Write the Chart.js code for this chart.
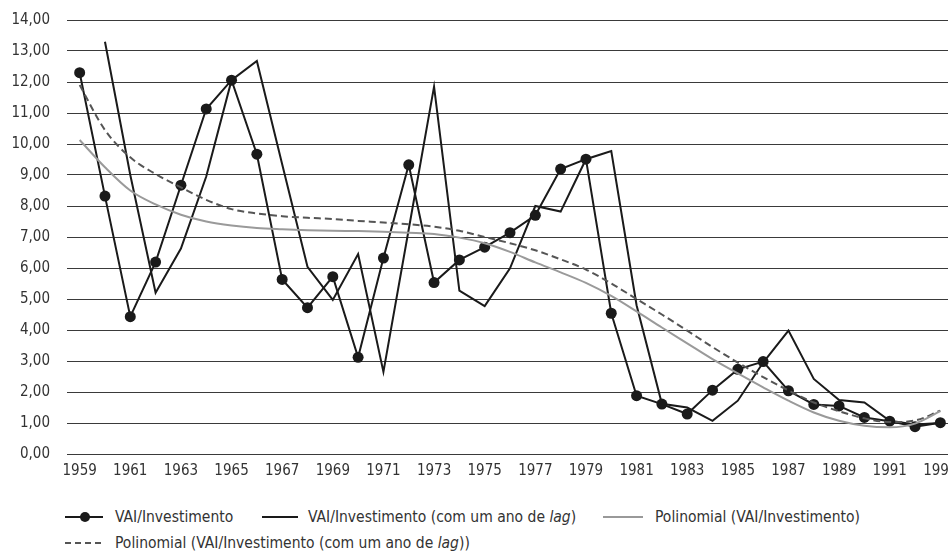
<!doctype html>
<html>
    <head>
        <meta charset="utf-8">
        <title>VAI/Investimento</title>
        <script src="https://cdn.jsdelivr.net/npm/chart.js@4.4.1/dist/chart.umd.min.js"></script>
        <style>
            html, body { margin: 0; padding: 0; background: #fff; overflow: hidden; }
            body { width: 948px; height: 555px; position: relative; }
            #wrap { position: absolute; left: 0; top: 0; width: 970px; height: 490px; }
            .leg { position: absolute; font-family: "DejaVu Sans Condensed", "Liberation Sans Narrow", "DejaVu Sans", sans-serif;
                   font-stretch: condensed; font-size: 15.5px; color: #333; white-space: nowrap; line-height: 18px; }
            .leg svg { position: absolute; top: 0; }
        </style>
    </head>

    <body>
        <div id="wrap"><canvas id="chart"></canvas></div>

        <!-- legend, kept as html so "lag" can be italic -->
        <div class="leg" style="left:65px; top:508px;">
            <svg width="40" height="18" style="left:0"><line x1="0" y1="9" x2="38" y2="9" stroke="#1a1a1a" stroke-width="2"/><circle cx="20" cy="9" r="5" fill="#1a1a1a"/></svg>
            <span style="position:absolute; left:50px;">VAI/Investimento</span>
        </div>
        <div class="leg" style="left:262px; top:508px;">
            <svg width="40" height="18" style="left:0"><line x1="0" y1="9" x2="36" y2="9" stroke="#1a1a1a" stroke-width="2"/></svg>
            <span style="position:absolute; left:46px;">VAI/Investimento (com um ano de <i>lag</i>)</span>
        </div>
        <div class="leg" style="left:603px; top:508px;">
            <svg width="42" height="18" style="left:0"><line x1="0" y1="9" x2="40" y2="9" stroke="#999" stroke-width="2"/></svg>
            <span style="position:absolute; left:52px;">Polinomial (VAI/Investimento)</span>
        </div>
        <div class="leg" style="left:65px; top:534px;">
            <svg width="40" height="18" style="left:0"><line x1="0" y1="9" x2="38" y2="9" stroke="#555" stroke-width="2" stroke-dasharray="6,4"/></svg>
            <span style="position:absolute; left:50px;">Polinomial (VAI/Investimento (com um ano de <i>lag</i>))</span>
        </div>

        <script>

        var years = ["1959", "1960", "1961", "1962", "1963", "1964", "1965", "1966", "1967", "1968",
                     "1969", "1970", "1971", "1972", "1973", "1974", "1975", "1976", "1977", "1978",
                     "1979", "1980", "1981", "1982", "1983", "1984", "1985", "1986", "1987", "1988",
                     "1989", "1990", "1991", "1992", "1993"];

        var vaiInvest = [12.30, 8.32, 4.43, 6.19, 8.67, 11.13, 12.06, 9.67, 5.63, 4.72,
                         5.72, 3.12, 6.32, 9.33, 5.53, 6.26, 6.67, 7.14, 7.70, 9.19,
                         9.51, 4.54, 1.88, 1.61, 1.29, 2.06, 2.73, 2.98, 2.04, 1.60,
                         1.55, 1.18, 1.06, 0.88, 1.01];

        var vaiInvestLag = [null, 13.30, 9.00, 5.20, 6.63, 8.95, 12.06, 12.68, 9.35, 6.04,
                            4.97, 6.45, 2.65, 7.25, 11.85, 5.27, 4.77, 5.99, 8.00, 7.82,
                            9.51, 9.77, 4.80, 1.62, 1.50, 1.07, 1.72, 2.95, 3.98, 2.42,
                            1.74, 1.66, 1.07, 0.95, 1.00];

        var polyVai = [10.13, 9.25, 8.50, 8.05, 7.72, 7.50, 7.37, 7.29, 7.25, 7.22,
                       7.20, 7.19, 7.17, 7.14, 7.10, 6.98, 6.80, 6.52, 6.18, 5.86,
                       5.52, 5.10, 4.60, 4.08, 3.57, 3.06, 2.60, 2.15, 1.72, 1.34,
                       1.07, 0.91, 0.86, 0.98, 1.38];

        var polyVaiLag = [11.90, 10.45, 9.57, 9.03, 8.60, 8.20, 7.90, 7.76, 7.67, 7.62,
                          7.58, 7.52, 7.47, 7.41, 7.33, 7.20, 7.00, 6.80, 6.57, 6.28,
                          5.95, 5.50, 5.00, 4.50, 3.98, 3.45, 2.95, 2.48, 2.05, 1.66,
                          1.38, 1.15, 1.03, 1.08, 1.40];

        var fontFamily = '"DejaVu Sans Condensed", "Liberation Sans Narrow", "DejaVu Sans", sans-serif';

        function fmt(v) {
            return v.toFixed(2).replace(".", ",");
        }

        new Chart(document.getElementById("chart"), {
            type: "line",
            data: {
                labels: years,
                datasets: [
                    {
                        label: "Polinomial (VAI/Investimento)",
                        data: polyVai,
                        borderColor: "#9a9a9a",
                        borderWidth: 2,
                        pointRadius: 0,
                        cubicInterpolationMode: "monotone"
                    },
                    {
                        label: "Polinomial (VAI/Investimento (com um ano de lag))",
                        data: polyVaiLag,
                        borderColor: "#555",
                        borderWidth: 2,
                        borderDash: [7, 4],
                        pointRadius: 0,
                        cubicInterpolationMode: "monotone"
                    },
                    {
                        label: "VAI/Investimento (com um ano de lag)",
                        data: vaiInvestLag,
                        borderColor: "#1a1a1a",
                        borderWidth: 2,
                        pointRadius: 0,
                        tension: 0
                    },
                    {
                        label: "VAI/Investimento",
                        data: vaiInvest,
                        borderColor: "#1a1a1a",
                        backgroundColor: "#1a1a1a",
                        borderWidth: 2,
                        pointRadius: 5.5,
                        pointBackgroundColor: "#1a1a1a",
                        pointBorderWidth: 0,
                        tension: 0
                    }
                ]
            },
            options: {
                responsive: true,
                maintainAspectRatio: false,
                animation: false,
                layout: { padding: { top: 20, right: 17, left: 0, bottom: 0 } },
                plugins: {
                    legend: { display: false },
                    tooltip: { enabled: false }
                },
                scales: {
                    x: {
                        offset: true,
                        grid: { display: false, drawTicks: false },
                        border: { display: false },
                        afterFit: function(scale) { scale.height = 36; },
                        ticks: {
                            autoSkip: false,
                            maxRotation: 0,
                            padding: 8,
                            color: "#333",
                            font: { family: fontFamily, size: 15 },
                            callback: function(v, i) { return i % 2 === 0 ? years[i] : ""; }
                        }
                    },
                    y: {
                        min: 0,
                        max: 14,
                        // fixed axis width; drop the extra top/bottom room the tick padding adds
                        afterFit: function(scale) {
                            scale.width = 67;
                            scale.paddingTop = 8;
                            scale.paddingBottom = 8;
                        },
                        grid: { color: "#3a3a3a", lineWidth: 1, drawTicks: false },
                        border: { display: false },
                        ticks: {
                            stepSize: 1,
                            padding: 17,
                            color: "#333",
                            font: { family: fontFamily, size: 15 },
                            callback: function(v) { return fmt(v); }
                        }
                    }
                }
            }
        });

        </script>
    </body>
</html>
